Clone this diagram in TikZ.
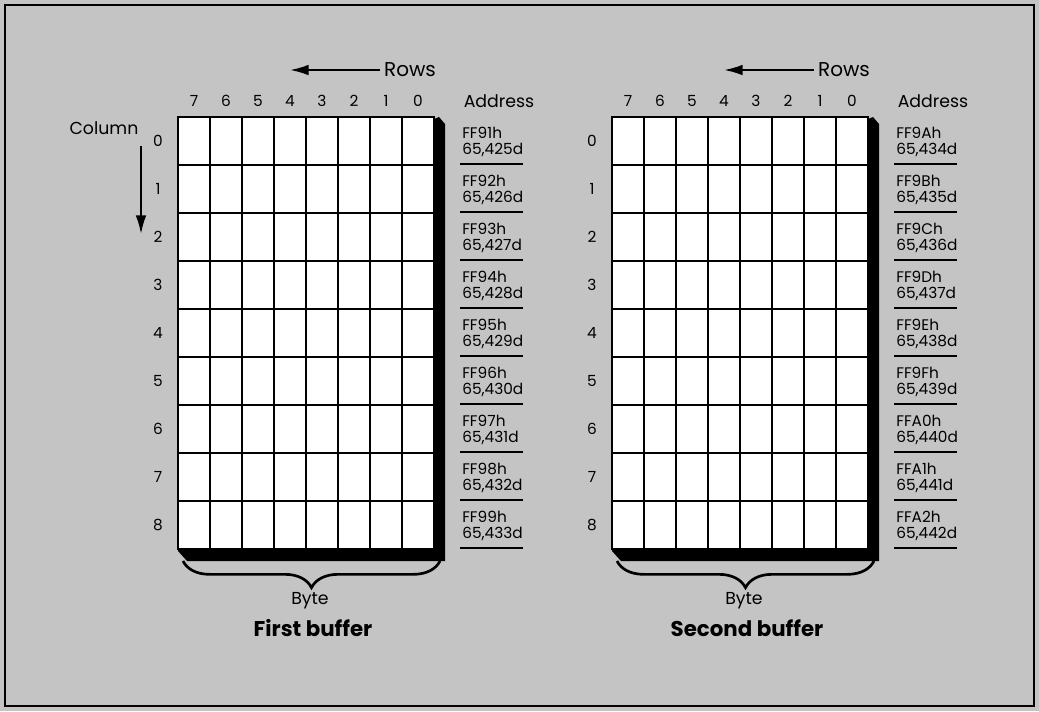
\documentclass[tikz,border=0pt]{standalone}
\usepackage{fontspec}
\setmainfont{Poppins}
\usetikzlibrary{arrows.meta,positioning,calc,decorations.pathreplacing}
\definecolor{ScreenGray}{HTML}{C4C4C4}

% one byte buffer: #1 name, #2 left edge, #3 title, #4 row/hex/decimal list
\newcommand{\membuffer}[4]{%
  \begin{scope}[shift={(#2,0)}]
    \fill (256,119) -- (261,117) -- (267,124) -- (267,561) -- (9,561) -- (0,551) -- (0,549) -- (256,549) -- cycle;
    \fill[white] (0,117) rectangle (256,549);
    \foreach \i in {1,...,7}
      \draw[gridline] (\i*32,117) -- (\i*32,549);
    \foreach \j in {1,...,8}
      \draw[gridline] (0,117+\j*48) -- (256,117+\j*48);
    \draw[line width=1.5pt] (0,117) rectangle (256,549);
    \foreach \i in {0,...,7}
      \node[bitnum] (#1-bit\i) at (240-\i*32,101) {\i};
    \foreach \j in {0,...,8}
      \node[bitnum] (#1-row\j) at (-20,141+\j*48) {\j};
    \node[lbl] (#1-addr) at (321,101) {Address};
    \foreach \j/\h/\d in {#4} {
      \node[addr] (#1-a\j) at (284,142+\j*48) {\h\\65,\d d};
      \draw[addrline] (282,164+\j*48) -- (345,164+\j*48);
    }
    \node[lbl,font=\fontsize{15}{15}\selectfont] (#1-rows) at (232,70) {Rows};
    \coordinate (#1-rowend) at (112,70);
    \draw[arr] ([xshift=-3pt]#1-rows.west) -- (#1-rowend);
    \draw[brace] (5,561) -- (262,561);
    \node[lbl] (#1-byte) at (132,601) {Byte};
    \node[title] (#1-title) at (135,628) {#3};
  \end{scope}}

\begin{document}
\begin{tikzpicture}[x=0.75pt,y=-0.75pt,
  gridline/.style={line width=0.8pt},
  addrline/.style={line width=1.2pt},
  bitnum/.style={font=\fontsize{11.5}{11}\selectfont, inner sep=0pt},
  lbl/.style={font=\fontsize{13}{13}\selectfont, inner sep=0pt},
  addr/.style={font=\fontsize{11.5}{11.5}\selectfont, align=left, anchor=west, inner sep=0pt},
  title/.style={font=\fontsize{16}{16}\selectfont\bfseries, inner sep=0pt},
  arr/.style={line width=1.5pt, -{Latex[length=14pt,width=8pt]}},
  brace/.style={line width=2pt, decorate, decoration={brace, mirror, amplitude=20pt}}]
\useasboundingbox (0,0) rectangle (1039,711);
\fill[ScreenGray] (0,0) rectangle (1039,711);
\draw[line width=1pt] (5,5) rectangle (1034,706);

\membuffer{first}{178}{First buffer}{0/FF91h/425, 1/FF92h/426, 2/FF93h/427, 3/FF94h/428, 4/FF95h/429, 5/FF96h/430, 6/FF97h/431, 7/FF98h/432, 8/FF99h/433}
\membuffer{second}{612}{Second buffer}{0/FF9Ah/434, 1/FF9Bh/435, 2/FF9Ch/436, 3/FF9Dh/437, 4/FF9Eh/438, 5/FF9Fh/439, 6/FFA0h/440, 7/FFA1h/441, 8/FFA2h/442}

% column direction
\node[lbl] (colname) at (104,128) {Column};
\coordinate (colstart) at (141,146);
\coordinate (colend) at (141,234);
\draw[arr] (colstart) -- (colend);
\end{tikzpicture}
\end{document}
